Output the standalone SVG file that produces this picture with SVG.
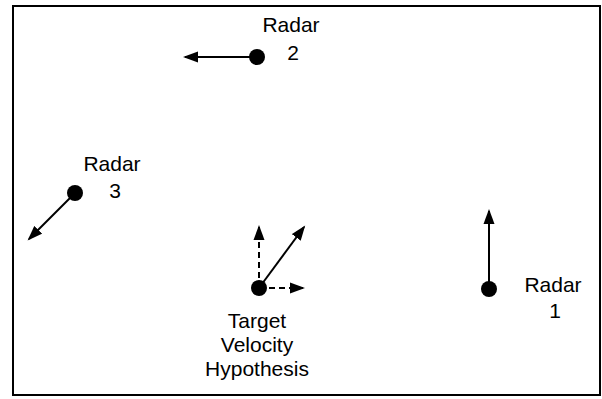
<svg xmlns="http://www.w3.org/2000/svg" width="602" height="399" viewBox="0 0 602 399">
<style>
.lbl{font-family:"Liberation Sans",Arial,sans-serif;font-size:21px;fill:#000;text-anchor:middle}
.ln{stroke:#000;stroke-width:2;fill:none}
.dash{stroke-dasharray:6,4}
.dot{fill:#000}
</style>
<defs>
<marker id="ah" markerUnits="userSpaceOnUse" markerWidth="16" markerHeight="12" refX="13" refY="6" orient="auto" viewBox="0 0 16 12">
<path d="M0,0.5 L15,6 L0,11.5 z" fill="#000"/>
</marker>
</defs>
<rect x="13" y="6" width="587" height="389" fill="#fff" stroke="#000" stroke-width="2"/>
<g id="connectors">
<line class="ln" x1="257" y1="57" x2="185" y2="57" marker-end="url(#ah)"/>
<line class="ln" x1="75" y1="193" x2="29" y2="239" marker-end="url(#ah)"/>
<line class="ln" x1="489" y1="289" x2="489" y2="211" marker-end="url(#ah)"/>
<line class="ln" x1="259" y1="288" x2="304" y2="227" marker-end="url(#ah)"/>
<line class="ln dash" x1="259" y1="288" x2="259" y2="227" marker-end="url(#ah)"/>
<line class="ln dash" x1="259" y1="288" x2="303" y2="288" marker-end="url(#ah)"/>
</g>
<g id="radar2">
<circle class="dot" cx="257" cy="57" r="8"/>
<text class="lbl" x="291" y="32">Radar</text>
<text class="lbl" x="293" y="60">2</text>
</g>
<g id="radar3">
<circle class="dot" cx="75" cy="193" r="8"/>
<text class="lbl" x="112" y="171">Radar</text>
<text class="lbl" x="115" y="198">3</text>
</g>
<g id="radar1">
<circle class="dot" cx="489" cy="289" r="8"/>
<text class="lbl" x="553" y="292">Radar</text>
<text class="lbl" x="555" y="318">1</text>
</g>
<g id="target">
<circle class="dot" cx="259" cy="288" r="8"/>
<text class="lbl" x="257" y="328">Target</text>
<text class="lbl" x="257" y="352">Velocity</text>
<text class="lbl" x="257" y="376">Hypothesis</text>
</g>
</svg>
